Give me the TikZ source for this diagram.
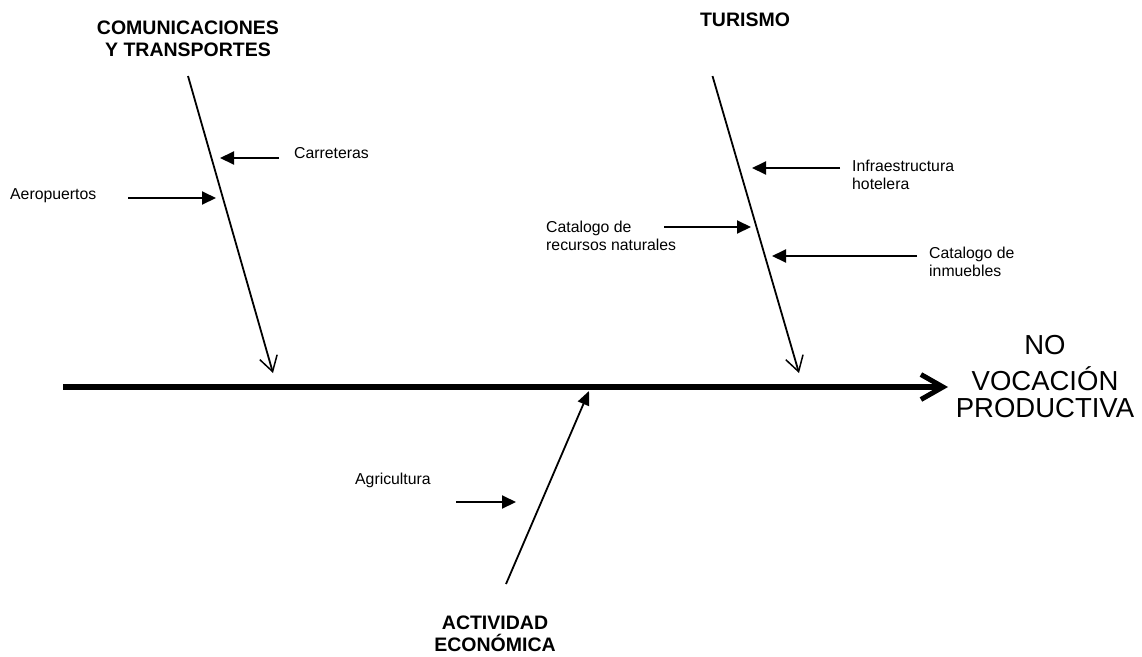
\documentclass[tikz,border=0pt]{standalone}
\usepackage{fontspec}
\setmainfont{Liberation Sans}
\usetikzlibrary{arrows.meta}
\begin{document}
\begin{tikzpicture}[x=1pt,y=-1pt,
  head/.style={font=\bfseries\fontsize{19.5}{22}\selectfont, align=center, anchor=north, inner sep=0pt},
  lbl/.style={font=\fontsize{15.8}{17.5}\selectfont, align=left, anchor=north west, inner sep=0pt},
  effect/.style={font=\fontsize{27.5}{27}\selectfont, align=center, anchor=north, inner sep=0pt},
  spine/.style={line width=6pt, -{Straight Barb[length=22pt,width=25pt,line width=5pt]}},
  bone/.style={line width=1.8pt, -{Straight Barb[length=15pt,width=18pt,line width=1.5pt]}},
  bonein/.style={line width=1.8pt, -{Triangle[length=14pt,width=12pt]}},
  sub/.style={line width=2pt, -{Triangle[length=14pt,width=13pt]}}]
\useasboundingbox (0,0) rectangle (1142,656);
\fill[white] (0,0) rectangle (1142,656);

% texts
\node[head] (comm) at (188,21) {COMUNICACIONES\\Y TRANSPORTES};
\node[head] (tur) at (745,13) {TURISMO};
\node[head] (act) at (495,616) {ACTIVIDAD\\ECONÓMICA};
\node[effect] (eff) at (1045,335) {NO\\[9pt]VOCACIÓN\\PRODUCTIVA};

\node[lbl] (carr) at (294,147) {Carreteras};
\node[lbl] (aero) at (10,188) {Aeropuertos};
\node[lbl] (infra) at (852,160) {Infraestructura\\hotelera};
\node[lbl] (recn) at (546,221) {Catalogo de\\recursos naturales};
\node[lbl] (inmu) at (929,247) {Catalogo de\\inmuebles};
\node[lbl] (agri) at (355,473) {Agricultura};

% spine
\coordinate (s0) at (63,387);
\coordinate (s1) at (948,387);
\draw[spine] (s0) -- (s1);

% branches
\coordinate (c0) at (188,76);
\coordinate (c1) at (273,373);
\draw[bone] (c0) -- (c1);
\coordinate (t0) at (712.5,76);
\coordinate (t1) at (799,373);
\draw[bone] (t0) -- (t1);
\coordinate (a0) at (506,584);
\coordinate (a1) at (589,391);
\draw[bonein] (a0) -- (a1);

% sub-causes
\coordinate (carrA) at (279,158);
\coordinate (carrB) at (220,158);
\draw[sub] (carrA) -- (carrB);
\coordinate (aeroA) at (128,198);
\coordinate (aeroB) at (216,198);
\draw[sub] (aeroA) -- (aeroB);
\coordinate (infraA) at (840,168);
\coordinate (infraB) at (752,168);
\draw[sub] (infraA) -- (infraB);
\coordinate (recnA) at (664,227);
\coordinate (recnB) at (751,227);
\draw[sub] (recnA) -- (recnB);
\coordinate (inmuA) at (917,256);
\coordinate (inmuB) at (772,256);
\draw[sub] (inmuA) -- (inmuB);
\coordinate (agriA) at (456,502);
\coordinate (agriB) at (516,502);
\draw[sub] (agriA) -- (agriB);
\end{tikzpicture}
\end{document}
